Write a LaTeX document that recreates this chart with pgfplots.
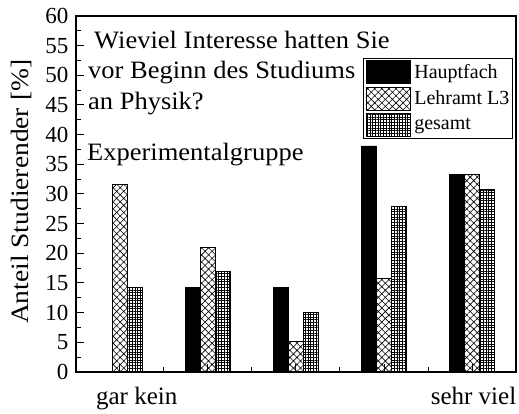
\documentclass[border=0pt]{standalone}
\usepackage{fontspec}
\setmainfont{LiberationSerif}[Extension=.ttf,UprightFont=*-Regular,BoldFont=*-Bold]
\newfontfamily\titlefont{LiberationSerif}[Extension=.ttf,UprightFont=*-Regular,FakeStretch=1.06]
\newfontfamily\labelfont{LiberationSerif}[Extension=.ttf,UprightFont=*-Regular,FakeStretch=1.1]
\usepackage{pgfplots}
\usepackage{pgfplotstable}
\pgfplotsset{compat=1.18}
\usetikzlibrary{patterns.meta}

% Anteil Studierender [%] je Antwortstufe
\pgfplotstableread{
x haupt lehr ges
1 0    31.6 14.3
2 14.3 21.0 16.9
3 14.3 5.2  10.1
4 38.1 15.8 27.9
5 33.3 33.3 30.8
}\interesse

\newcommand{\bigtxt}{\titlefont\fontsize{25}{30}\selectfont}

\begin{document}
\begin{tikzpicture}
  \path[use as bounding box] (-76pt,-42pt) rectangle (443pt,372pt);
  \begin{axis}[
      scale only axis,
      width=440pt,height=356pt,
      xmin=0.5,xmax=5.5,ymin=0,ymax=60,
      xtick={1,...,5},xticklabels={,,,,},
      minor xtick={1.5,2.5,3.5,4.5},
      ytick={0,5,...,60},minor ytick={2.5,7.5,...,57.5},
      tick pos=left,tick align=inside,
      major tick length=8pt,minor tick length=5pt,
      axis line style={line width=1.3pt},
      tick style={line width=1pt,black},
      /pgf/number format/assume math mode=true,
      yticklabel style={font=\fontsize{23}{27}\selectfont,xshift=-4pt},
      ylabel={Anteil Studierender [\%]},
      ylabel style={font=\labelfont\fontsize{25}{30}\selectfont,
        at={(axis description cs:-0.123,0.506)},anchor=center},
      clip=false,
      legend style={at={(0.9925,0.882)},anchor=north east,
        draw=black,line width=0.8pt,
        font=\fontsize{20}{24}\selectfont,
        inner xsep=2pt,inner ysep=2pt,
        nodes={inner sep=1pt},row sep=2.5pt,column sep=3pt},
      legend cell align=left,
      legend image code/.code={\draw[#1,line width=0.8pt] (0pt,-11.5pt) rectangle (44pt,11.5pt);},
    ]
    \addplot[ybar,bar width=0.17,bar shift=-0.17,fill=black,draw=black,line width=0.8pt]
      table[x=x,y=haupt]{\interesse};
    \addplot[ybar,bar width=0.17,bar shift=0,draw=black,line width=0.8pt,
      pattern={Hatch[angle=45,distance=5pt,line width=0.6pt]}]
      table[x=x,y=lehr]{\interesse};
    \addplot[ybar,bar width=0.17,bar shift=0.17,draw=black,line width=0.8pt,
      pattern={Hatch[angle=0,distance=2.7pt,line width=0.5pt]}]
      table[x=x,y=ges]{\interesse};
    \legend{Hauptfach,Lehramt L3,gesamt}

    \node[anchor=base west,font=\bigtxt,inner sep=0pt] at (axis cs:0.705,54.6) {Wieviel Interesse hatten Sie};
    \node[anchor=base west,font=\bigtxt,inner sep=0pt] at (axis cs:0.636,49.55) {vor Beginn des Studiums};
    \node[anchor=base west,font=\bigtxt,inner sep=0pt] at (axis cs:0.636,44.3) {an Physik?};
    \node[anchor=base west,font=\bigtxt,inner sep=0pt] at (axis cs:0.625,35.7) {Experimentalgruppe};
    \node[anchor=base,font=\fontsize{25}{30}\selectfont,inner sep=0pt] at (axis cs:1.19,-5.4) {gar kein};
    \node[anchor=base,font=\fontsize{25}{30}\selectfont,inner sep=0pt] at (axis cs:5.017,-5.4) {sehr viel};
  \end{axis}
\end{tikzpicture}
\end{document}
